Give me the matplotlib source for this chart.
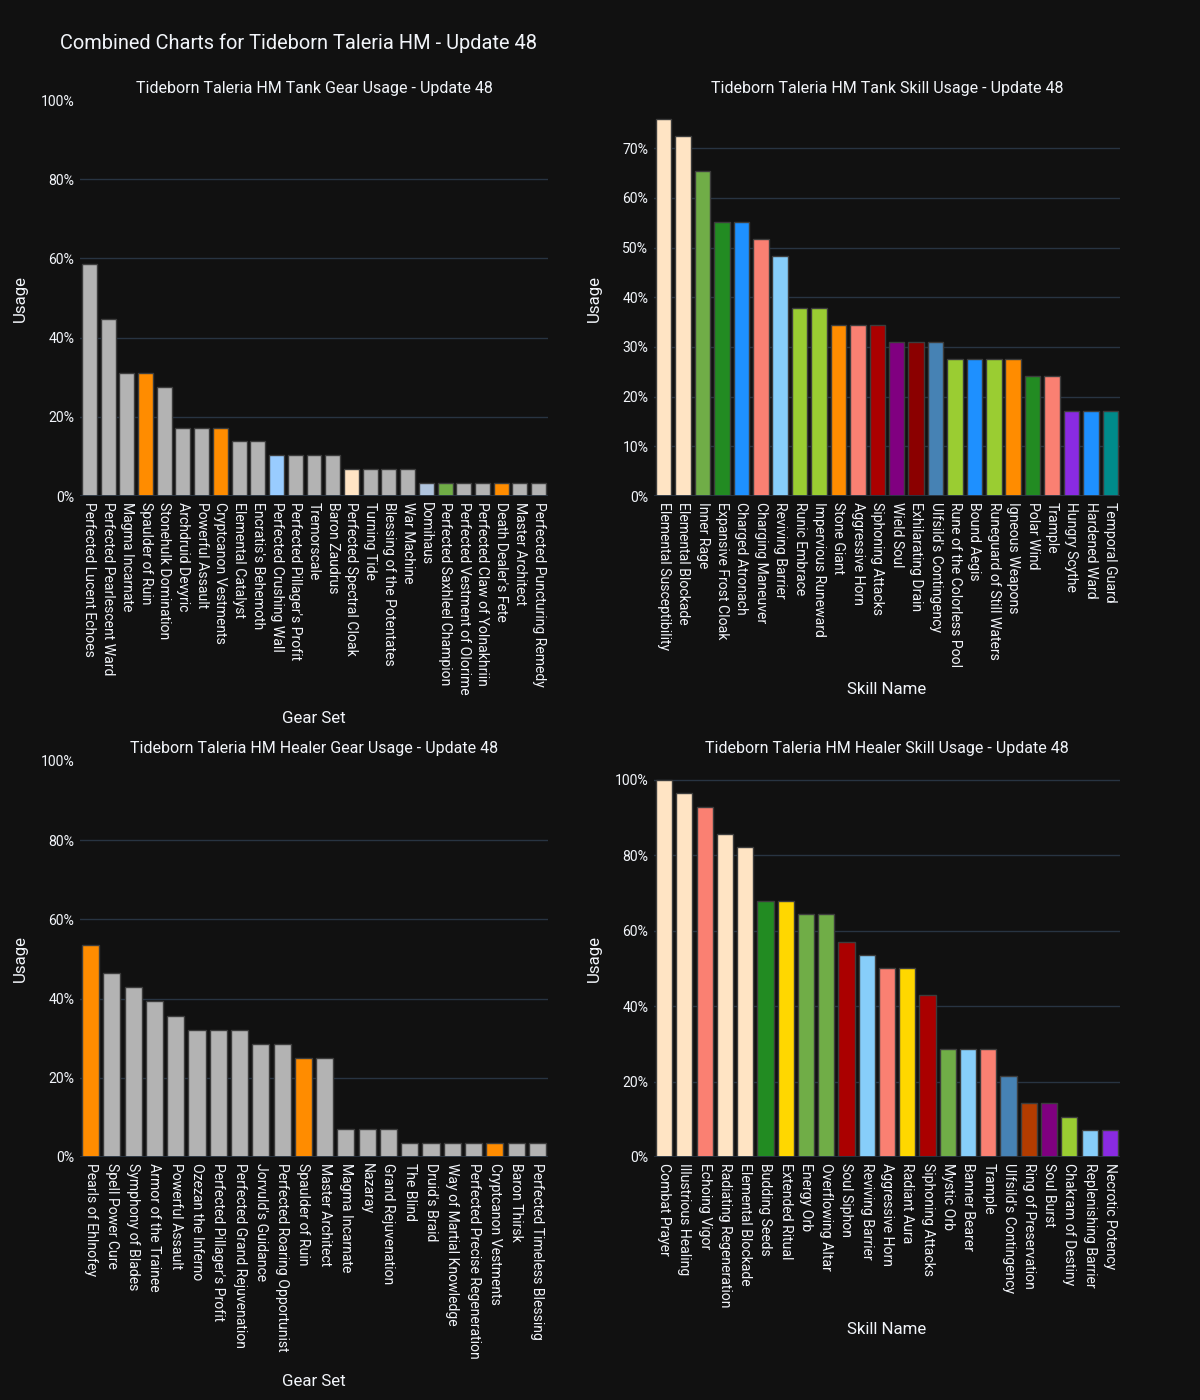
import matplotlib
matplotlib.use("Agg")
import matplotlib.pyplot as plt

plt.rcParams['font.family'] = ['Roboto', 'DejaVu Sans']

# Tank gear
tank_gear = ["Perfected Lucent Echoes", "Perfected Pearlescent Ward", "Magma Incarnate",
             "Spaulder of Ruin", "Stonehulk Domination", "Archdruid Devyric", "Powerful Assault",
             "Cryptcanon Vestments", "Elemental Catalyst", "Encratis's Behemoth",
             "Perfected Crushing Wall", "Perfected Pillager's Profit", "Tremorscale",
             "Baron Zaudrus", "Perfected Spectral Cloak", "Turning Tide",
             "Blessing of the Potentates", "War Machine", "Domihaus",
             "Perfected Saxhleel Champion", "Perfected Vestment of Olorime",
             "Perfected Claw of Yolnakhriin", "Death Dealer's Fete", "Master Architect",
             "Perfected Puncturing Remedy"]
tank_gear_usage = [58.6, 44.8, 31.0, 31.0, 27.6, 17.2, 17.2, 17.2, 13.8, 13.8, 10.3, 10.3,
                   10.3, 10.3, 6.9, 6.9, 6.9, 6.9, 3.4, 3.4, 3.4, 3.4, 3.4, 3.4, 3.4]
tank_gear_colors = ["#b3b3b3", "#b3b3b3", "#b3b3b3", "#ff8c00", "#b3b3b3", "#b3b3b3", "#b3b3b3",
                    "#ff8c00", "#b3b3b3", "#b3b3b3", "#99ccff", "#b3b3b3", "#b3b3b3", "#b3b3b3",
                    "#ffe4c4", "#b3b3b3", "#b3b3b3", "#b3b3b3", "#b0c4de", "#70ad47", "#b3b3b3",
                    "#b3b3b3", "#ff8c00", "#b3b3b3", "#b3b3b3"]

# Tank skills
tank_skill = ["Elemental Susceptibility", "Elemental Blockade", "Inner Rage",
              "Expansive Frost Cloak", "Charged Atronach", "Charging Maneuver",
              "Reviving Barrier", "Runic Embrace", "Impervious Runeward", "Stone Giant",
              "Aggressive Horn", "Siphoning Attacks", "Wield Soul", "Exhilarating Drain",
              "Ulfsild's Contingency", "Rune of the Colorless Pool", "Bound Aegis",
              "Runeguard of Still Waters", "Igneous Weapons", "Polar Wind", "Trample",
              "Hungry Scythe", "Hardened Ward", "Temporal Guard"]
tank_skill_usage = [75.9, 72.4, 65.5, 55.2, 55.2, 51.7, 48.3, 37.9, 37.9, 34.5, 34.5, 34.5,
                    31.0, 31.0, 31.0, 27.6, 27.6, 27.6, 27.6, 24.1, 24.1, 17.2, 17.2, 17.2]
tank_skill_colors = ["#ffe4c4", "#ffe4c4", "#70ad47", "#228b22", "#1e90ff", "#fa8072",
                     "#87cefa", "#9acd32", "#9acd32", "#ff8c00", "#fa8072", "#aa0000",
                     "#800080", "#8b0000", "#4682b4", "#9acd32", "#1e90ff", "#9acd32",
                     "#ff8c00", "#228b22", "#fa8072", "#8a2be2", "#1e90ff", "#008b8b"]

# Healer gear
healer_gear = ["Pearls of Ehlnofey", "Spell Power Cure", "Symphony of Blades",
               "Armor of the Trainee", "Powerful Assault", "Ozezan the Inferno",
               "Perfected Pillager's Profit", "Perfected Grand Rejuvenation",
               "Jorvuld's Guidance", "Perfected Roaring Opportunist", "Spaulder of Ruin",
               "Master Architect", "Magma Incarnate", "Nazaray", "Grand Rejuvenation",
               "The Blind", "Druid's Braid", "Way of Martial Knowledge",
               "Perfected Precise Regeneration", "Cryptcanon Vestments", "Baron Thirsk",
               "Perfected Timeless Blessing"]
healer_gear_usage = [53.6, 46.4, 42.9, 39.3, 35.7, 32.1, 32.1, 32.1, 28.6, 28.6, 25.0, 25.0,
                     7.1, 7.1, 7.1, 3.6, 3.6, 3.6, 3.6, 3.6, 3.6, 3.6]
healer_gear_colors = ["#ff8c00"] + ["#b3b3b3"] * 9 + ["#ff8c00"] + ["#b3b3b3"] * 8 + \
                     ["#ff8c00", "#b3b3b3", "#b3b3b3"]

# Healer skills
healer_skill = ["Combat Prayer", "Illustrious Healing", "Echoing Vigor",
                "Radiating Regeneration", "Elemental Blockade", "Budding Seeds",
                "Extended Ritual", "Energy Orb", "Overflowing Altar", "Soul Siphon",
                "Reviving Barrier", "Aggressive Horn", "Radiant Aura", "Siphoning Attacks",
                "Mystic Orb", "Banner Bearer", "Trample", "Ulfsild's Contingency",
                "Ring of Preservation", "Soul Burst", "Chakram of Destiny",
                "Replenishing Barrier", "Necrotic Potency"]
healer_skill_usage = [100.0, 96.4, 92.9, 85.7, 82.1, 67.9, 67.9, 64.3, 64.3, 57.1, 53.6,
                      50.0, 50.0, 42.9, 28.6, 28.6, 28.6, 21.4, 14.3, 14.3, 10.7, 7.1, 7.1]
healer_skill_colors = ["#ffe4c4", "#ffe4c4", "#fa8072", "#ffe4c4", "#ffe4c4", "#228b22",
                       "#ffd700", "#70ad47", "#70ad47", "#aa0000", "#87cefa", "#fa8072",
                       "#ffd700", "#aa0000", "#70ad47", "#87cefa", "#fa8072", "#4682b4",
                       "#b33c00", "#800080", "#9acd32", "#87cefa", "#8a2be2"]

BG = "#111111"
GRID = "#283442"
TXT = "#f2f5fa"
W, H = 1200, 1400

fig = plt.figure(figsize=(12, 14), dpi=100, facecolor=BG)


def rect(x0, y0, x1, y1):
    return [x0 / W, 1 - y1 / H, (x1 - x0) / W, (y1 - y0) / H]


def panel(box, names, vals, colors, title, xlabel, xlab_y, ticks, top):
    ax = fig.add_axes(rect(*box))
    ax.set_facecolor(BG)
    n = len(names)
    for t in ticks:
        if 0 < t < top - 0.5:
            ax.axhline(t, color=GRID, lw=1, zorder=0)
    ax.axhline(0, color=GRID, lw=2, zorder=3)
    ax.bar(range(n), vals, width=0.8, color=colors, edgecolor="#3c3c3c", linewidth=1, zorder=2)
    ax.set_xlim(-0.5, n - 0.5)
    ax.set_ylim(0, top)
    ax.set_yticks(ticks)
    ax.set_yticklabels([f"{t}%" for t in ticks])
    ax.set_xticks(range(n))
    ax.set_xticklabels(names, rotation=-90, ha="center", va="top")
    ax.tick_params(colors=TXT, labelsize=10.1, length=0, pad=4)
    for s in ax.spines.values():
        s.set_visible(False)
    x0, y0, x1, y1 = box
    cx = (x0 + x1) / 2
    fig.text(cx / W, 1 - 88 / H if y0 < 500 else 1 - 749 / H, title, color=TXT,
             fontsize=11.5, ha="center", va="center")
    fig.text(cx / W, 1 - xlab_y / H, xlabel, color=TXT, fontsize=12.2, ha="center", va="center")
    fig.text((x0 - 60) / W, 1 - (y0 + y1) / 2 / H, "Usage", color=TXT, fontsize=12.2,
             rotation=90, ha="center", va="center")
    return ax


panel((80, 100, 548, 496), tank_gear, tank_gear_usage, tank_gear_colors,
      "Tideborn Taleria HM Tank Gear Usage - Update 48", "Gear Set", 718,
      [0, 20, 40, 60, 80, 100], 100)
panel((654, 100, 1120, 496), tank_skill, tank_skill_usage, tank_skill_colors,
      "Tideborn Taleria HM Tank Skill Usage - Update 48", "Skill Name", 689,
      [0, 10, 20, 30, 40, 50, 60, 70], max(tank_skill_usage) * 1.05)
panel((80, 761, 548, 1157), healer_gear, healer_gear_usage, healer_gear_colors,
      "Tideborn Taleria HM Healer Gear Usage - Update 48", "Gear Set", 1381,
      [0, 20, 40, 60, 80, 100], 100)
panel((654, 761, 1120, 1157), healer_skill, healer_skill_usage, healer_skill_colors,
      "Tideborn Taleria HM Healer Skill Usage - Update 48", "Skill Name", 1330,
      [0, 20, 40, 60, 80, 100], max(healer_skill_usage) * 1.05)

fig.text(60 / W, 1 - 43 / H, "Combined Charts for Tideborn Taleria HM - Update 48",
         color=TXT, fontsize=14.4, ha="left", va="center")

fig.savefig("out.png", dpi=100, facecolor=BG)
